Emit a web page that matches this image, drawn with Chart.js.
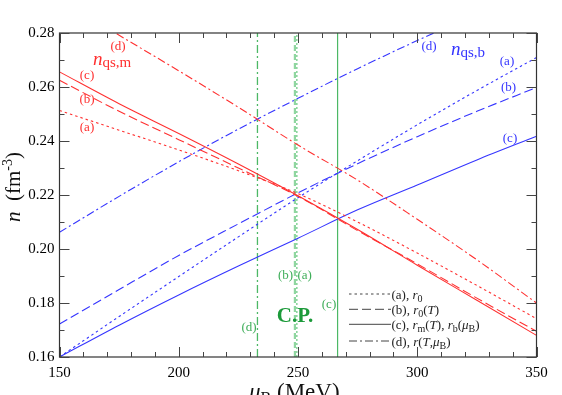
<!DOCTYPE html>
<html>
<head>
<meta charset="UTF-8">
<script src="https://cdn.jsdelivr.net/npm/chart.js@4"></script>
<style>
  html, body { margin: 0; padding: 0; background: #fff; }
</style>
</head>
<body>
<canvas id="chart" width="562" height="395"></canvas>
<script>
// mu_B grid (MeV) and densities (fm^-3)
const muGrid = [150, 175, 200, 225, 250, 275, 300, 325, 350];

// n_qs,m (red, falling)
const redA = [0.2513, 0.2440, 0.2367, 0.2290, 0.2205, 0.2100, 0.1985, 0.1865, 0.1742];
const redB = [0.2625, 0.2510, 0.2405, 0.2300, 0.2195, 0.2068, 0.1945, 0.1818, 0.1695];
const redC = [0.2656, 0.2538, 0.2428, 0.2315, 0.2197, 0.2072, 0.1940, 0.1810, 0.1680];
const muRedD = [174, 200, 225, 250, 275, 300, 325, 350];
const redD = [0.2797, 0.2660, 0.2525, 0.2385, 0.2255, 0.2110, 0.1960, 0.1800];

// n_qs,b (blue, rising)
const blueA = [0.1600, 0.1750, 0.1898, 0.2045, 0.2190, 0.2327, 0.2460, 0.2587, 0.2709];
const blueB = [0.1722, 0.1850, 0.1976, 0.2093, 0.2208, 0.2316, 0.2416, 0.2510, 0.2598];
const blueC = [0.1600, 0.1718, 0.1830, 0.1937, 0.2040, 0.2145, 0.2237, 0.2330, 0.2418];
const muBlueD = [150, 175, 200, 225, 250, 275, 300, 307];
const blueD = [0.2062, 0.2195, 0.2323, 0.2444, 0.2558, 0.2668, 0.2772, 0.2800];

// critical points (green verticals)
const cpLabels = ['(a)', '(b)', '(c)', '(d)'];
const cpMu = [249.5, 248.7, 266.6, 233.0];

// axes
const xMin = 150, xMax = 350, xStep = 50, xMinor = 10;
const yMin = 0.16, yMax = 0.28, yStep = 0.02, yMinor = 0.01;

const RED = '#ff3030';
const BLUE = '#3535ff';
const GREEN = '#4cb865';
const SERIF = "'Liberation Serif', 'Times New Roman', serif";

const DOT = [2.5, 3];
const DASH = [9, 4];
const DASHDOT = [8, 3, 2, 3];

function pts(xs, ys) {
  return xs.map((x, i) => ({ x: x, y: ys[i] }));
}

function curve(xs, ys, color, dash) {
  return {
    data: pts(xs, ys),
    showLine: true,
    borderColor: color,
    borderWidth: 1.1,
    borderDash: dash,
    pointRadius: 0,
    cubicInterpolationMode: 'monotone'
  };
}

function vline(mu, dash, width, color) {
  return {
    data: [{ x: mu, y: yMin }, { x: mu, y: yMax }],
    showLine: true,
    borderColor: color,
    borderWidth: width,
    borderDash: dash,
    pointRadius: 0
  };
}

// write a run of text pieces: [text, font, dy]
function richText(ctx, x, y, parts) {
  parts.forEach(p => {
    ctx.font = p[1];
    ctx.fillText(p[0], x, y + (p[2] || 0));
    x += ctx.measureText(p[0]).width;
  });
}

const decor = {
  id: 'decor',
  afterDraw(chart) {
    const ctx = chart.ctx;
    const a = chart.chartArea;
    const xs = chart.scales.x, ys = chart.scales.y;
    ctx.save();

    // frame
    ctx.strokeStyle = '#333';
    ctx.lineWidth = 1.2;
    ctx.setLineDash([]);
    ctx.strokeRect(a.left, a.top, a.right - a.left, a.bottom - a.top);

    // inward ticks on all four sides
    ctx.lineWidth = 1;
    ctx.strokeStyle = '#444';
    ctx.beginPath();
    for (let v = xMin; v <= xMax + 1e-9; v += xMinor) {
      const px = Math.round(xs.getPixelForValue(v)) + 0.5;
      const len = (Math.abs(v % xStep) < 1e-6) ? 10 : 5;
      ctx.moveTo(px, a.bottom); ctx.lineTo(px, a.bottom - len);
      ctx.moveTo(px, a.top); ctx.lineTo(px, a.top + len);
    }
    const nY = Math.round((yMax - yMin) / yMinor);
    for (let i = 0; i <= nY; i++) {
      const v = yMin + i * yMinor;
      const py = Math.round(ys.getPixelForValue(v)) + 0.5;
      const len = (i % 2 === 0) ? 10 : 5;
      ctx.moveTo(a.left, py); ctx.lineTo(a.left + len, py);
      ctx.moveTo(a.right, py); ctx.lineTo(a.right - len, py);
    }
    ctx.stroke();

    // curve labels
    ctx.textBaseline = 'middle';
    ctx.textAlign = 'center';
    ctx.font = '13px ' + SERIF;
    ctx.fillStyle = RED;
    [['(d)', 118, 47], ['(c)', 87, 76], ['(b)', 87, 100], ['(a)', 87, 127.5]]
      .forEach(l => ctx.fillText(l[0], l[1], l[2]));
    ctx.fillStyle = BLUE;
    [['(d)', 429, 47], ['(a)', 507, 62], ['(b)', 508.5, 88], ['(c)', 510, 138.5]]
      .forEach(l => ctx.fillText(l[0], l[1], l[2]));
    ctx.fillStyle = '#3fae5a';
    const cpPos = [[304.7, 276], [285.5, 276], [329, 304.5], [249, 328]];
    cpLabels.forEach((t, i) => ctx.fillText(t, cpPos[i][0], cpPos[i][1]));
    ctx.fillStyle = '#1c9a3a';
    ctx.font = 'bold 21px ' + SERIF;
    ctx.fillText('C.P.', 295, 317);

    // n_qs,m and n_qs,b
    ctx.textAlign = 'left';
    ctx.textBaseline = 'alphabetic';
    ctx.fillStyle = RED;
    richText(ctx, 93, 65, [['n', 'italic 19px ' + SERIF], ['qs,m', '15px ' + SERIF, 2]]);
    ctx.fillStyle = BLUE;
    richText(ctx, 451, 55, [['n', 'italic 19px ' + SERIF], ['qs,b', '15px ' + SERIF, 2]]);

    // legend
    const f = '13px ' + SERIF, fi = 'italic 13px ' + SERIF, fs = '10px ' + SERIF;
    const legend = [
      [294, DOT, [['(a), ', f], ['r', fi], ['0', fs, 3]]],
      [309.3, DASH, [['(b), ', f], ['r', fi], ['0', fs, 3], ['(', f], ['T', fi], [')', f]]],
      [324.3, [], [['(c), ', f], ['r', fi], ['m', fs, 3], ['(', f], ['T', fi], ['), ', f],
                   ['r', fi], ['b', fs, 3], ['(', f], ['\u03bc', fi], ['B', fs, 3], [')', f]]],
      [341, DASHDOT, [['(d), ', f], ['r', fi], ['(', f], ['T', fi], [',', f], ['\u03bc', fi], ['B', fs, 3], [')', f]]]
    ];
    legend.forEach(l => {
      ctx.strokeStyle = '#444';
      ctx.lineWidth = 1;
      ctx.setLineDash(l[1]);
      ctx.beginPath();
      ctx.moveTo(349, l[0]); ctx.lineTo(391, l[0]);
      ctx.stroke();
      ctx.setLineDash([]);
      ctx.fillStyle = '#222';
      richText(ctx, 391.5, l[0] + 4.5, l[2]);
    });

    // axis titles
    ctx.fillStyle = '#111';
    richText(ctx, 249, 399, [['\u03bc', 'italic 23px ' + SERIF], ['B', '16px ' + SERIF, 4], [' (MeV)', '23px ' + SERIF]]);
    ctx.translate(20, 222);
    ctx.rotate(-Math.PI / 2);
    richText(ctx, 0, 0, [['n', 'italic 21px ' + SERIF], ['  (fm', '21px ' + SERIF], ['-3', '14px ' + SERIF, -8], [')', '21px ' + SERIF]]);

    ctx.restore();
  }
};

new Chart(document.getElementById('chart'), {
  type: 'scatter',
  data: {
    datasets: [
      curve(muGrid, redA, RED, DOT),
      curve(muGrid, redB, RED, DASH),
      curve(muGrid, redC, RED, []),
      curve(muRedD, redD, RED, DASHDOT),
      curve(muGrid, blueA, BLUE, DOT),
      curve(muGrid, blueB, BLUE, DASH),
      curve(muGrid, blueC, BLUE, []),
      curve(muBlueD, blueD, BLUE, DASHDOT),
      vline(cpMu[0], [2, 2], 1.6, '#8fd6a0'),
      vline(cpMu[1], [6, 3], 2.2, '#8fd6a0'),
      vline(cpMu[2], [], 1.2, GREEN),
      vline(cpMu[3], [8, 3, 2, 3], 1.3, GREEN)
    ]
  },
  options: {
    responsive: false,
    animation: false,
    devicePixelRatio: 1,
    layout: { padding: { top: 33, right: 25.5, left: 0, bottom: 0 } },
    plugins: { legend: { display: false }, tooltip: { enabled: false } },
    scales: {
      x: {
        type: 'linear', min: xMin, max: xMax,
        grid: { display: false, drawTicks: false }, border: { display: false },
        ticks: { stepSize: xStep, padding: 7, color: '#000', font: { family: SERIF, size: 15 } },
        afterFit: s => { s.height = 38; }
      },
      y: {
        min: yMin, max: yMax,
        grid: { display: false, drawTicks: false }, border: { display: false },
        ticks: { stepSize: yStep, padding: 5, color: '#000', font: { family: SERIF, size: 15 },
                 callback: v => v.toFixed(2) },
        afterFit: s => { s.width = 59.5; }
      }
    }
  },
  plugins: [decor]
});
</script>
</body>
</html>
